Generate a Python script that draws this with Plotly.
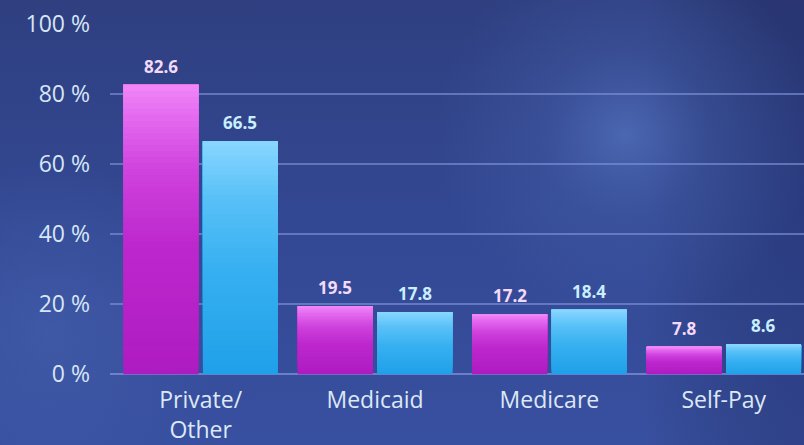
import base64
import plotly.graph_objects as go

# Payer mix, percent of patients
categories = ["Private/<br>Other", "Medicaid", "Medicare", "Self-Pay"]
series_a = [82.6, 19.5, 17.2, 7.8]   # magenta bars
series_b = [66.5, 17.8, 18.4, 8.6]   # cyan bars
y_ticks = [0, 20, 40, 60, 80, 100]
y_tick_labels = ["0 %", "20 %", "40 %", "60 %", "80 %", "100 %"]

W, H = 804, 445
ML, MR, MT, MB = 110, 0, 23, 70

# vertical colour stops (0 = bar bottom, 1 = bar top)
grad_a = [(0.0, "#ad1cc1"), (0.45, "#bd28cd"), (0.7, "#cf42dd"), (0.9, "#e56cf0"), (1.0, "#f188f9")]
grad_b = [(0.0, "#1fa0e9"), (0.45, "#37b0f1"), (0.75, "#58c0f7"), (1.0, "#88d7ff")]


def hex_rgb(h):
    h = h.lstrip("#")
    return tuple(int(h[i:i + 2], 16) for i in (0, 2, 4))


def color_at(stops, f):
    for (f0, c0), (f1, c1) in zip(stops, stops[1:]):
        if f0 <= f <= f1:
            t = (f - f0) / (f1 - f0) if f1 > f0 else 0
            a, b = hex_rgb(c0), hex_rgb(c1)
            r = [round(a[i] + (b[i] - a[i]) * t) for i in range(3)]
            return f"rgb({r[0]},{r[1]},{r[2]})"
    return stops[-1][1]


# background: dark blue wash with a soft glow
svg = f"""<svg xmlns='http://www.w3.org/2000/svg' width='{W}' height='{H}' viewBox='0 0 {W} {H}' preserveAspectRatio='none'>
<defs>
<linearGradient id='g' x1='0' y1='0' x2='0' y2='1'>
<stop offset='0' stop-color='#2f3f80'/><stop offset='0.5' stop-color='#334893'/><stop offset='1' stop-color='#3850a0'/>
</linearGradient>
<linearGradient id='s' x1='0' y1='0' x2='1' y2='0'>
<stop offset='0' stop-color='#000' stop-opacity='0'/><stop offset='0.8' stop-color='#000' stop-opacity='0'/><stop offset='1' stop-color='#14184a' stop-opacity='0.25'/>
</linearGradient>
<radialGradient id='h' cx='625' cy='135' r='190' gradientUnits='userSpaceOnUse'>
<stop offset='0' stop-color='#5270bb' stop-opacity='0.8'/><stop offset='0.45' stop-color='#4662ad' stop-opacity='0.35'/><stop offset='1' stop-color='#4662ad' stop-opacity='0'/>
</radialGradient>
<radialGradient id='h2' cx='50' cy='330' r='170' gradientUnits='userSpaceOnUse'>
<stop offset='0' stop-color='#4763b0' stop-opacity='0.55'/><stop offset='1' stop-color='#4763b0' stop-opacity='0'/>
</radialGradient>
</defs>
<rect width='{W}' height='{H}' fill='url(#g)'/>
<rect width='{W}' height='{H}' fill='url(#s)'/>
<rect width='{W}' height='{H}' fill='url(#h)'/>
<rect width='{W}' height='{H}' fill='url(#h2)'/>
</svg>"""
bg_src = "data:image/svg+xml;base64," + base64.b64encode(svg.encode()).decode()

fig = go.Figure()

N = 48
bar_w = 0.43
half_gap = 0.013
for values, stops, offset in ((series_a, grad_a, -bar_w - half_gap), (series_b, grad_b, half_gap)):
    for k in range(N):
        f = k / N
        fig.add_trace(go.Bar(
            x=categories,
            y=[v * (1 - f) for v in values],
            base=[v * f for v in values],
            width=bar_w,
            offset=offset,
            marker=dict(color=color_at(stops, (k + 0.5) / N), line=dict(width=0)),
            hoverinfo="skip",
            showlegend=False,
        ))

# value labels above each bar
annotations = []
for values, offset, col in ((series_a, -bar_w / 2 - half_gap, "#f4dafa"), (series_b, bar_w / 2 + half_gap, "#c9efff")):
    for i, v in enumerate(values):
        annotations.append(dict(
            x=i + offset, y=v, xref="x", yref="y",
            text=f"<b>{v:.1f}</b>", showarrow=False,
            yanchor="bottom", yshift=5,
            font=dict(family="Open Sans", size=17, color=col),
        ))

fig.update_layout(
    width=W, height=H,
    margin=dict(l=ML, r=MR, t=MT, b=MB),
    paper_bgcolor="#334893",
    plot_bgcolor="rgba(0,0,0,0)",
    barmode="overlay",
    showlegend=False,
    annotations=annotations,
    images=[dict(
        source=bg_src, xref="paper", yref="paper",
        x=-ML / (W - ML - MR), y=1 + MT / (H - MT - MB),
        sizex=W / (W - ML - MR), sizey=H / (H - MT - MB),
        xanchor="left", yanchor="top", sizing="stretch", layer="below",
    )],
    xaxis=dict(
        type="category",
        range=[-0.52, 3.46],
        showgrid=False, showline=False, zeroline=False,
        ticks="", ticklabelstandoff=9,
        tickfont=dict(family="Open Sans", size=23, color="#dde8f7"),
    ),
    yaxis=dict(
        range=[-0.2, 100.2],
        tickvals=y_ticks, ticktext=y_tick_labels,
        showgrid=True, gridcolor="rgba(125,145,215,0.65)", gridwidth=2,
        zeroline=True, zerolinecolor="rgba(125,145,215,0.75)", zerolinewidth=2,
        showline=False, ticks="", ticklabelstandoff=19,
        tickfont=dict(family="Open Sans", size=23, color="#d6e6f6"),
    ),
)

fig.write_html("out.html")
